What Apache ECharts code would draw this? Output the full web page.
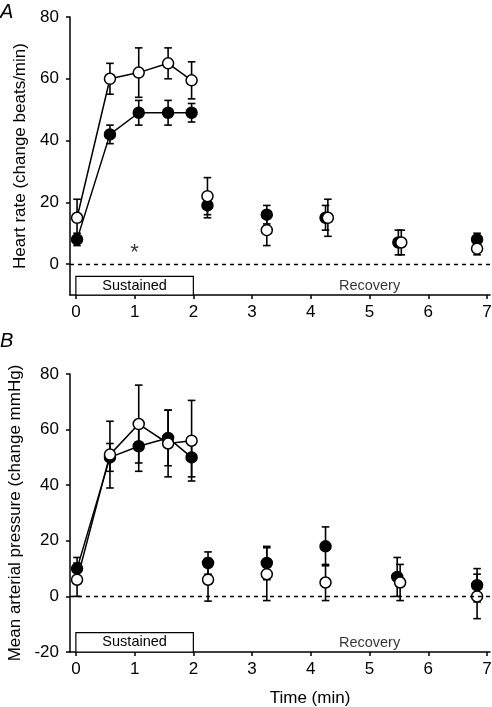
<!DOCTYPE html>
<html>
<head>
<meta charset="utf-8">
<script src="https://cdn.jsdelivr.net/npm/echarts@6/dist/echarts.min.js"></script>
<style>
html,body{margin:0;padding:0;background:#fff;}
#chart{width:492px;height:707px;}
</style>
</head>
<body>
<div id="chart"></div>
<script>
// ---------- Data ----------
var nSustained = 5; // first 5 points are connected (sustained phase)
var xTicks = [0, 1, 2, 3, 4, 5, 6, 7];
var yTicksA = [0, 20, 40, 60, 80];
var yTicksB = [-20, 0, 20, 40, 60, 80];

// Panel A: heart rate (change beats/min)
var timeOpenA   = [0.02, 0.58, 1.07, 1.57, 1.97, 2.24, 3.25, 4.29, 5.54, 6.83];
var hrOpen      = [15, 60, 62, 65, 59.5, 22, 11, 15, 7, 5];
var hrOpenErr   = [6, 5, 8, 5, 6, 6, 5, 6, 4, 2];
var timeFilledA = [0.02, 0.58, 1.07, 1.57, 1.97, 2.24, 3.25, 4.25, 5.49, 6.83];
var hrFilled    = [8, 42, 49, 49, 49, 19, 16, 15, 7, 8];
var hrFilledErr = [2, 3, 4, 4, 3, 4, 3, 4, 4, 2];

// Panel B: mean arterial pressure (change mmHg)
var timeOpenB    = [0.02, 0.58, 1.07, 1.57, 1.97, 2.25, 3.25, 4.25, 5.52, 6.83];
var mapOpen      = [6, 51, 62, 55, 56, 6, 8, 5, 5, 0];
var mapOpenErr   = [6, 12, 14, 12, 14.5, 7.7, 9.5, 6.5, 6.5, 8];
var timeFilledB  = [0.02, 0.58, 1.07, 1.57, 1.97, 2.25, 3.25, 4.25, 5.47, 6.83];
var mapFilled    = [10, 50, 54, 57, 50, 12, 12, 18, 7, 4];
var mapFilledErr = [4, 5, 9, 10, 7, 4, 6, 7, 7, 6];

// Phase annotations
var sustainedRange = [0, 2];
var sustainedTopA = -4, sustainedTopB = -13;
var recoveryLabelA = [5, -7.2];
var recoveryLabelB = [5, -16.8];
var asteriskA = [1, 3.6];

// ---------- Helpers ----------
var FONT = 'Arial, "Liberation Sans", sans-serif';
function pts(xs, ys, from, to){ var r=[]; for (var i=from;i<to;i++) r.push([xs[i], ys[i]]); return r; }
function errPts(xs, ys, es){ return xs.map(function(x,i){ return [x, ys[i], es[i]]; }); }
function errSeries(data, gi){
  return {
    type:'custom', xAxisIndex:gi, yAxisIndex:gi, z:2, silent:true,
    data:data,
    renderItem:function(params, api){
      var x=api.value(0), y=api.value(1), e=api.value(2);
      var t=api.coord([x,y+e]), b=api.coord([x,y-e]);
      var w=3.8, st={stroke:'#000', lineWidth:1.6};
      return {type:'group', children:[
        {type:'line', shape:{x1:t[0],y1:t[1],x2:b[0],y2:b[1]}, style:st},
        {type:'line', shape:{x1:t[0]-w,y1:t[1],x2:t[0]+w,y2:t[1]}, style:st},
        {type:'line', shape:{x1:b[0]-w,y1:b[1],x2:b[0]+w,y2:b[1]}, style:st}
      ]};
    }
  };
}
function markerStyle(open){
  return open ? {color:'#fff', borderColor:'#000', borderWidth:1.5, opacity:1}
              : {color:'#000', borderColor:'#000', borderWidth:1.5, opacity:1};
}
function lineSeries(data, gi, open){
  return {type:'line', xAxisIndex:gi, yAxisIndex:gi, z:open?4:3, data:data,
    symbol:'circle', symbolSize:11, showSymbol:true, silent:true,
    lineStyle:{color:'#000', width:1.5}, itemStyle:markerStyle(open), animation:false};
}
function scatterSeries(data, gi, open){
  return {type:'scatter', xAxisIndex:gi, yAxisIndex:gi, z:open?4:3, data:data,
    symbol:'circle', symbolSize:11, silent:true, itemStyle:markerStyle(open), animation:false};
}
function textSeries(pos, text, gi, size){
  return {type:'scatter', xAxisIndex:gi, yAxisIndex:gi, z:6, silent:true, symbolSize:0,
    data:[pos], label:{show:true, position:'inside', formatter:text, color:'#000',
      fontFamily:FONT, fontSize:size}};
}
function zeroAndBox(gi, top, bottom){
  return {type:'line', xAxisIndex:gi, yAxisIndex:gi, data:[], silent:true, z:1,
    markLine:{silent:true, symbol:['none','none'], label:{show:false},
      lineStyle:{color:'#000', type:[4,4], width:1.3}, data:[{yAxis:0}], animation:false},
    markArea:{silent:true, itemStyle:{color:'#fff', borderColor:'#000', borderWidth:1.2},
      label:{show:true, position:'inside', formatter:'Sustained', color:'#000', fontFamily:FONT, fontSize:14.5},
      data:[[{coord:[sustainedRange[0], top]}, {coord:[sustainedRange[1], bottom]}]]}
  };
}
function xAxisDef(gi){
  return {type:'value', gridIndex:gi, min:-0.1, max:7.05,
    axisLine:{show:true, onZero:false, lineStyle:{color:'#000', width:1.5}},
    axisTick:{show:true, length:4, customValues:xTicks, lineStyle:{color:'#000', width:1.5}},
    axisLabel:{show:true, customValues:xTicks, margin:9, color:'#000', fontFamily:FONT, fontSize:17},
    splitLine:{show:false}};
}
function yAxisDef(gi, min, max, ticks, name){
  return {type:'value', gridIndex:gi, min:min, max:max,
    name:name, nameLocation:'middle', nameGap:41,
    nameTextStyle:{color:'#000', fontFamily:FONT, fontSize:17},
    axisLine:{show:true, onZero:false, lineStyle:{color:'#000', width:1.5}},
    axisTick:{show:true, length:4, customValues:ticks, lineStyle:{color:'#000', width:1.5}},
    axisLabel:{show:true, customValues:ticks, margin:11, color:'#000', fontFamily:FONT, fontSize:17},
    splitLine:{show:false}};
}

var chart = echarts.init(document.getElementById('chart'), null, {renderer:'canvas'});
var option = {
  animation:false,
  backgroundColor:'#fff',
  grid:[
    {left:70, top:17, width:420, height:278, containLabel:false, outerBoundsMode:'none'},
    {left:70, top:374, width:420, height:278, containLabel:false, outerBoundsMode:'none'}
  ],
  xAxis:[xAxisDef(0), xAxisDef(1)],
  yAxis:[
    yAxisDef(0, -10, 80, yTicksA, 'Heart rate (change beats/min)'),
    yAxisDef(1, -20, 80, yTicksB, 'Mean arterial pressure (change mmHg)')
  ],
  graphic:[
    {type:'text', left:0, top:2, style:{text:'A', font:'italic 20px ' + FONT, fill:'#000'}},
    {type:'text', left:0, top:331, style:{text:'B', font:'italic 20px ' + FONT, fill:'#000'}},
    {type:'text', x:310, y:698, style:{text:'Time (min)', font:'17px ' + FONT, fill:'#000', align:'center', verticalAlign:'middle'}}
  ],
  series:[
    zeroAndBox(0, sustainedTopA, -10),
    zeroAndBox(1, sustainedTopB, -20),
    textSeries(recoveryLabelA, 'Recovery', 0, 14.5),
    textSeries(recoveryLabelB, 'Recovery', 1, 14.5),
    textSeries(asteriskA, '*', 0, 22),
    errSeries(errPts(timeFilledA, hrFilled, hrFilledErr), 0),
    errSeries(errPts(timeOpenA, hrOpen, hrOpenErr), 0),
    errSeries(errPts(timeFilledB, mapFilled, mapFilledErr), 1),
    errSeries(errPts(timeOpenB, mapOpen, mapOpenErr), 1),
    lineSeries(pts(timeFilledA, hrFilled, 0, nSustained), 0, false),
    lineSeries(pts(timeOpenA, hrOpen, 0, nSustained), 0, true),
    scatterSeries(pts(timeFilledA, hrFilled, nSustained, timeFilledA.length), 0, false),
    scatterSeries(pts(timeOpenA, hrOpen, nSustained, timeOpenA.length), 0, true),
    lineSeries(pts(timeFilledB, mapFilled, 0, nSustained), 1, false),
    lineSeries(pts(timeOpenB, mapOpen, 0, nSustained), 1, true),
    scatterSeries(pts(timeFilledB, mapFilled, nSustained, timeFilledB.length), 1, false),
    scatterSeries(pts(timeOpenB, mapOpen, nSustained, timeOpenB.length), 1, true)
  ]
};
chart.setOption(option);
</script>
</body>
</html>
